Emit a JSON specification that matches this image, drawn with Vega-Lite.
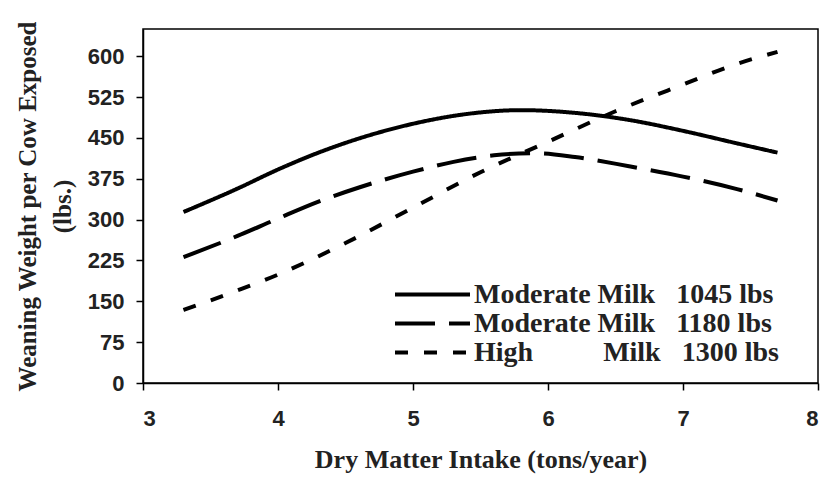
{
  "$schema": "https://vega.github.io/schema/vega-lite/v6.json",
  "width": 675,
  "height": 354,
  "autosize": {"type": "none"},
  "padding": {"left": 143, "top": 29, "right": 4, "bottom": 94},
  "background": "white",
  "config": {
    "view": {"stroke": "black", "strokeWidth": 1.5},
    "axis": {
      "domainColor": "black", "domainWidth": 1.5, "tickColor": "black", "tickWidth": 1.5, "tickSize": 7,
      "grid": false,
      "labelFont": "Liberation Sans", "labelFontWeight": "bold", "labelFontSize": 22, "labelColor": "#222",
      "titleFont": "Liberation Serif", "titleFontWeight": "bold", "titleFontSize": 25, "titleColor": "#222"
    }
  },
  "data": {
    "values": [
      {"dmi": 3.3, "w": 314, "s": "Moderate Milk\u00a0\u00a0\u00a01045 lbs"},
      {"dmi": 3.7, "w": 357, "s": "Moderate Milk\u00a0\u00a0\u00a01045 lbs"},
      {"dmi": 4.0, "w": 392, "s": "Moderate Milk\u00a0\u00a0\u00a01045 lbs"},
      {"dmi": 4.3, "w": 423, "s": "Moderate Milk\u00a0\u00a0\u00a01045 lbs"},
      {"dmi": 4.6, "w": 449, "s": "Moderate Milk\u00a0\u00a0\u00a01045 lbs"},
      {"dmi": 5.0, "w": 476, "s": "Moderate Milk\u00a0\u00a0\u00a01045 lbs"},
      {"dmi": 5.4, "w": 494, "s": "Moderate Milk\u00a0\u00a0\u00a01045 lbs"},
      {"dmi": 5.8, "w": 501, "s": "Moderate Milk\u00a0\u00a0\u00a01045 lbs"},
      {"dmi": 6.2, "w": 496, "s": "Moderate Milk\u00a0\u00a0\u00a01045 lbs"},
      {"dmi": 6.6, "w": 483, "s": "Moderate Milk\u00a0\u00a0\u00a01045 lbs"},
      {"dmi": 7.0, "w": 463, "s": "Moderate Milk\u00a0\u00a0\u00a01045 lbs"},
      {"dmi": 7.4, "w": 440, "s": "Moderate Milk\u00a0\u00a0\u00a01045 lbs"},
      {"dmi": 7.7, "w": 423, "s": "Moderate Milk\u00a0\u00a0\u00a01045 lbs"},
      {"dmi": 3.3, "w": 231, "s": "Moderate Milk\u00a0\u00a0\u00a01180 lbs"},
      {"dmi": 3.7, "w": 270, "s": "Moderate Milk\u00a0\u00a0\u00a01180 lbs"},
      {"dmi": 4.0, "w": 302, "s": "Moderate Milk\u00a0\u00a0\u00a01180 lbs"},
      {"dmi": 4.3, "w": 333, "s": "Moderate Milk\u00a0\u00a0\u00a01180 lbs"},
      {"dmi": 4.6, "w": 359, "s": "Moderate Milk\u00a0\u00a0\u00a01180 lbs"},
      {"dmi": 5.0, "w": 388, "s": "Moderate Milk\u00a0\u00a0\u00a01180 lbs"},
      {"dmi": 5.3, "w": 406, "s": "Moderate Milk\u00a0\u00a0\u00a01180 lbs"},
      {"dmi": 5.6, "w": 418, "s": "Moderate Milk\u00a0\u00a0\u00a01180 lbs"},
      {"dmi": 5.9, "w": 422, "s": "Moderate Milk\u00a0\u00a0\u00a01180 lbs"},
      {"dmi": 6.2, "w": 415, "s": "Moderate Milk\u00a0\u00a0\u00a01180 lbs"},
      {"dmi": 6.6, "w": 398, "s": "Moderate Milk\u00a0\u00a0\u00a01180 lbs"},
      {"dmi": 7.0, "w": 379, "s": "Moderate Milk\u00a0\u00a0\u00a01180 lbs"},
      {"dmi": 7.4, "w": 356, "s": "Moderate Milk\u00a0\u00a0\u00a01180 lbs"},
      {"dmi": 7.7, "w": 335, "s": "Moderate Milk\u00a0\u00a0\u00a01180 lbs"},
      {"dmi": 3.3, "w": 134, "s": "High\u00a0\u00a0\u00a0\u00a0\u00a0\u00a0\u00a0\u00a0\u00a0\u00a0Milk\u00a0\u00a0\u00a01300 lbs"},
      {"dmi": 3.7, "w": 170, "s": "High\u00a0\u00a0\u00a0\u00a0\u00a0\u00a0\u00a0\u00a0\u00a0\u00a0Milk\u00a0\u00a0\u00a01300 lbs"},
      {"dmi": 4.0, "w": 199, "s": "High\u00a0\u00a0\u00a0\u00a0\u00a0\u00a0\u00a0\u00a0\u00a0\u00a0Milk\u00a0\u00a0\u00a01300 lbs"},
      {"dmi": 4.5, "w": 257, "s": "High\u00a0\u00a0\u00a0\u00a0\u00a0\u00a0\u00a0\u00a0\u00a0\u00a0Milk\u00a0\u00a0\u00a01300 lbs"},
      {"dmi": 5.0, "w": 322, "s": "High\u00a0\u00a0\u00a0\u00a0\u00a0\u00a0\u00a0\u00a0\u00a0\u00a0Milk\u00a0\u00a0\u00a01300 lbs"},
      {"dmi": 5.5, "w": 387, "s": "High\u00a0\u00a0\u00a0\u00a0\u00a0\u00a0\u00a0\u00a0\u00a0\u00a0Milk\u00a0\u00a0\u00a01300 lbs"},
      {"dmi": 6.0, "w": 443, "s": "High\u00a0\u00a0\u00a0\u00a0\u00a0\u00a0\u00a0\u00a0\u00a0\u00a0Milk\u00a0\u00a0\u00a01300 lbs"},
      {"dmi": 6.5, "w": 499, "s": "High\u00a0\u00a0\u00a0\u00a0\u00a0\u00a0\u00a0\u00a0\u00a0\u00a0Milk\u00a0\u00a0\u00a01300 lbs"},
      {"dmi": 7.0, "w": 548, "s": "High\u00a0\u00a0\u00a0\u00a0\u00a0\u00a0\u00a0\u00a0\u00a0\u00a0Milk\u00a0\u00a0\u00a01300 lbs"},
      {"dmi": 7.4, "w": 586, "s": "High\u00a0\u00a0\u00a0\u00a0\u00a0\u00a0\u00a0\u00a0\u00a0\u00a0Milk\u00a0\u00a0\u00a01300 lbs"},
      {"dmi": 7.7, "w": 608, "s": "High\u00a0\u00a0\u00a0\u00a0\u00a0\u00a0\u00a0\u00a0\u00a0\u00a0Milk\u00a0\u00a0\u00a01300 lbs"}
    ]
  },
  "mark": {"type": "line", "color": "black", "strokeWidth": 4, "interpolate": "monotone"},
  "encoding": {
    "x": {
      "field": "dmi", "type": "quantitative",
      "scale": {"domain": [3, 8], "nice": false, "zero": false},
      "axis": {"values": [3, 4, 5, 6, 7, 8], "format": "d", "labelPadding": 18, "title": "Dry Matter Intake (tons/year)", "titleFontSize": 26, "titlePadding": 17}
    },
    "y": {
      "field": "w", "type": "quantitative",
      "scale": {"domain": [0, 650], "nice": false},
      "axis": {"values": [0, 75, 150, 225, 300, 375, 450, 525, 600], "labelPadding": 12, "title": ["Weaning Weight per Cow Exposed", "(lbs.)"], "titlePadding": 12, "titleLineHeight": 35}
    },
    "detail": {"field": "s"},
    "strokeDash": {
      "field": "s", "type": "nominal",
      "scale": {
        "domain": ["Moderate Milk\u00a0\u00a0\u00a01045 lbs", "Moderate Milk\u00a0\u00a0\u00a01180 lbs", "High\u00a0\u00a0\u00a0\u00a0\u00a0\u00a0\u00a0\u00a0\u00a0\u00a0Milk\u00a0\u00a0\u00a01300 lbs"],
        "range": [[1, 0], [40, 14], [13, 16]]
      },
      "legend": {
        "title": null, "orient": "none", "legendX": 250, "legendY": 251,
        "symbolType": "M-1,0H5", "symbolSize": 625, "symbolStrokeWidth": 4, "symbolStrokeColor": "black",
        "labelFont": "Liberation Serif", "labelFontWeight": "bold", "labelFontSize": 28, "labelColor": "#222",
        "labelLimit": 500, "labelOffset": 52, "rowPadding": 0
      }
    }
  }
}
